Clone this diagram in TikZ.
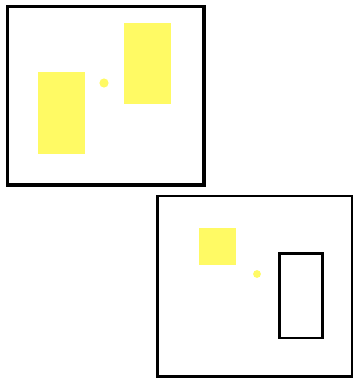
\documentclass[tikz,border=0pt]{standalone}
\definecolor{ylw}{RGB}{255,250,100}
\begin{document}
\begin{tikzpicture}[x=1pt,y=-1pt,
  frameA/.style={draw=black,line width=3.2pt},
  frameB/.style={draw=black,line width=2.2pt},
  ybox/.style={fill=ylw,draw=none},
  ydot/.style={fill=ylw,draw=none},
  obox/.style={draw=black,line width=2.4pt}]
\useasboundingbox (0,0) rectangle (353,378);
% first frame
\draw[frameA] (7.5,6.5) rectangle (204,185);
\fill[ybox] (38,72) rectangle (85,154);
\fill[ybox] (124,23) rectangle (171,104);
\fill[ydot] (104,83) circle (4.6);
% second frame
\draw[frameB] (157.5,196) rectangle (352,376.5);
\fill[ybox] (199,228) rectangle (236,265);
\fill[ydot] (257,274) circle (3.9);
\draw[obox] (279.5,253.5) rectangle (322.5,338);
\end{tikzpicture}
\end{document}
